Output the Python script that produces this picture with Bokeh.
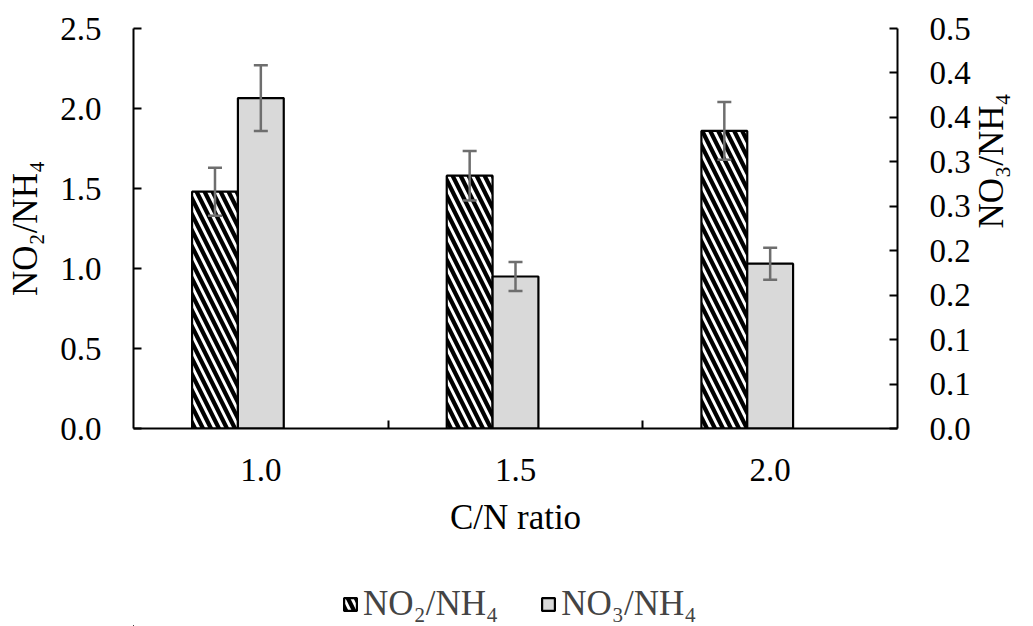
import math
from bokeh.plotting import figure
from bokeh.layouts import column
from bokeh.models import (Range1d, LinearAxis, FixedTicker, Whisker, ColumnDataSource,
                          Legend, LegendItem, TeeHead)
from bokeh.transform import dodge
from bokeh.embed import file_html
from bokeh.resources import INLINE

# ---- data ----
cn_labels = ["1.0", "1.5", "2.0"]
no2_nh4 = [1.48, 1.58, 1.86]
no2_err = [0.15, 0.155, 0.18]
no3_nh4 = [0.413, 0.19, 0.206]
no3_err = [0.041, 0.018, 0.02]
left_ticks = [0.0, 0.5, 1.0, 1.5, 2.0, 2.5]
right_ticks = [0.0, 0.0556, 0.1111, 0.1667, 0.2222, 0.2778, 0.3333, 0.3889, 0.4444, 0.5]
right_tick_labels = ["0.0", "0.1", "0.1", "0.2", "0.2", "0.3", "0.3", "0.4", "0.4", "0.5"]
series_names = ["NO₂/NH₄", "NO₃/NH₄"]

FONT = "Liberation Serif"
TICK_FS = "33px"
LABEL_FS = "35px"

NO2_STYLE = dict(fill_color="white", line_color="black", line_width=2.2,
                 hatch_pattern="\\", hatch_color="black", hatch_scale=16, hatch_weight=4.2)
NO3_STYLE = dict(fill_color="#d9d9d9", line_color="black", line_width=2.2)

xpos = [i + 0.5 for i in range(len(cn_labels))]
src = ColumnDataSource(dict(
    x=xpos, no2=no2_nh4,
    no2_up=[v + e for v, e in zip(no2_nh4, no2_err)],
    no2_lo=[v - e for v, e in zip(no2_nh4, no2_err)],
    no3=no3_nh4,
    no3_up=[v + e for v, e in zip(no3_nh4, no3_err)],
    no3_lo=[v - e for v, e in zip(no3_nh4, no3_err)],
))

p = figure(width=1033, height=560, x_range=Range1d(0, 3), y_range=Range1d(0, 2.5),
           output_backend="svg", toolbar_location=None,
           min_border_left=133, min_border_right=131, min_border_top=28, min_border_bottom=132,
           outline_line_color=None, background_fill_color="white", border_fill_color="white")
p.grid.visible = False
p.extra_y_ranges = {"r": Range1d(0, 0.5)}

bw = 0.18
r1 = p.vbar(x=dodge("x", -bw, range=p.x_range), top="no2", width=bw, source=src, **NO2_STYLE)
r2 = p.vbar(x="x", top="no3", width=bw, source=src, y_range_name="r", **NO3_STYLE)

for base, up, lo, yr in [(dodge("x", -bw, range=p.x_range), "no2_up", "no2_lo", "default"),
                         ("x", "no3_up", "no3_lo", "r")]:
    w = Whisker(base=base, upper=up, lower=lo, source=src, dimension="height",
                line_color="#6e6e6e", line_width=2.5, level="overlay",
                upper_head=TeeHead(size=14, line_color="#6e6e6e", line_width=2.5),
                lower_head=TeeHead(size=14, line_color="#6e6e6e", line_width=2.5))
    if yr != "default":
        w.y_range_name = yr
    p.add_layout(w)

# x axis
xa = p.xaxis[0]
xa.ticker = FixedTicker(ticks=xpos, minor_ticks=[1, 2])
xa.major_label_overrides = {x: l for x, l in zip(xpos, cn_labels)}
xa.major_tick_line_color = None
xa.minor_tick_in = 8
xa.minor_tick_out = 0
xa.minor_tick_line_width = 2
xa.axis_label = "C/N ratio"

# left axis
ya = p.yaxis[0]
ya.ticker = FixedTicker(ticks=left_ticks)
ya.major_label_overrides = {t: f"{t:.1f}" for t in left_ticks}
ya.axis_label = series_names[0]

# right axis
ra = LinearAxis(y_range_name="r", ticker=FixedTicker(ticks=right_ticks),
                major_label_overrides={t: l for t, l in zip(right_ticks, right_tick_labels)},
                axis_label=series_names[1])
p.add_layout(ra, "right")
ra.axis_label_orientation = math.pi / 2

for ax in [xa, ya, ra]:
    ax.axis_line_width = 2
    ax.axis_line_color = "black"
    ax.major_tick_line_width = 2
    ax.minor_tick_line_color = None if ax is not xa else "black"
    ax.major_label_text_font = FONT
    ax.major_label_text_font_size = TICK_FS
    ax.major_label_text_color = "black"
    ax.axis_label_text_font = FONT
    ax.axis_label_text_font_size = LABEL_FS
    ax.axis_label_text_font_style = "normal"
    ax.axis_label_text_color = "black"
for ax in [ya, ra]:
    ax.major_tick_in = 8
    ax.major_tick_out = 0
    ax.major_label_standoff = 32
ya.axis_label_standoff = 12
ra.axis_label_standoff = 18
xa.major_label_standoff = 24
xa.axis_label_standoff = 14

# legend strip below the chart (proxy bars lie far outside its visible range)
lg = figure(width=1033, height=66, output_backend="svg", toolbar_location=None,
            x_axis_location=None, y_axis_location=None, min_border=0,
            outline_line_color=None, background_fill_color="white", border_fill_color="white",
            x_range=Range1d(100, 101), y_range=Range1d(100, 101))
lg.grid.visible = False
e1 = lg.vbar(x="x", top="no2", width=bw, source=src, **NO2_STYLE)
e2 = lg.vbar(x="x", top="no3", width=bw, source=src, **NO3_STYLE)
legend = Legend(items=[LegendItem(label=series_names[0], renderers=[e1]),
                       LegendItem(label=series_names[1], renderers=[e2])],
                orientation="horizontal", location=(209, 2),
                border_line_color=None, background_fill_alpha=0, padding=0, margin=0,
                glyph_width=16, glyph_height=16, label_standoff=5, spacing=42,
                label_text_font=FONT, label_text_font_size="35px", label_height=30)
lg.add_layout(legend, "center")

layout = column(p, lg, spacing=0)
open("out.html", "w").write(file_html(layout, INLINE))
